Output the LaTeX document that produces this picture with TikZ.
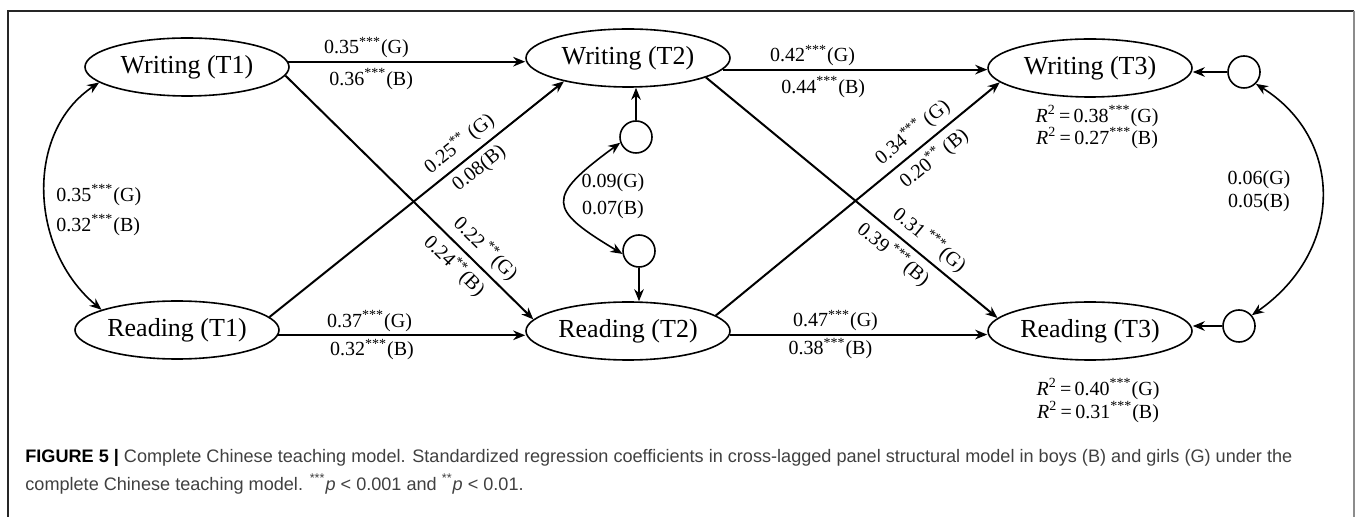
\documentclass[tikz,border=0pt]{standalone}
\usepackage{fontspec}
\setmainfont{Liberation Serif}
\setsansfont{Liberation Sans}
\usetikzlibrary{arrows.meta,shapes.geometric,calc}
\begin{document}
\begin{tikzpicture}[x=0.5pt,y=-0.5pt,
  lat/.style={ellipse,draw,line width=0.8pt,minimum width=102pt,minimum height=29pt,inner sep=0pt,font=\fontsize{13}{15}\selectfont},
  err/.style={circle,draw,line width=0.8pt,minimum size=16pt,inner sep=0pt},
  pathar/.style={line width=1pt,-{Stealth[length=6pt,width=4.8pt]}},
  covar/.style={line width=0.8pt,{Stealth[length=6pt,width=4.8pt]}-{Stealth[length=6pt,width=4.8pt]}},
  lab/.style={font=\fontsize{10}{12}\selectfont,inner sep=1.5pt},
  slab/.style={lab,sloped,inner sep=2.8pt},
  captext/.style={font=\sffamily\fontsize{9.05}{11}\selectfont,text=black!75,inner sep=0pt,anchor=base west},
]
\useasboundingbox (0,0) rectangle (1358,517);
% frame
\draw[line width=0.6pt,black!85] (8,517) -- (8,11) -- (1354,11);
\draw[line width=0.8pt,black!45] (1354,11) -- (1354,517);

% latent variables
\node[lat] (W1) at (187,67) {Writing (T1)};
\node[lat] (W2) at (628,58) {Writing (T2)};
\node[lat] (W3) at (1090,68) {Writing (T3)};
\node[lat] (R1) at (177,330) {Reading (T1)};
\node[lat] (R2) at (628,331) {Reading (T2)};
\node[lat] (R3) at (1090,331) {Reading (T3)};

% residual circles
\node[err] (eW2) at (636,137) {};
\node[err] (eR2) at (639,251) {};
\node[err] (eW3) at (1244,72) {};
\node[err] (eR3) at (1239,326) {};

% autoregressive paths
\draw[pathar] (W1.3) -- node[lab,above,pos=0.33] (l1) {0.35\textsuperscript{***}(G)}
  node[lab,below,pos=0.35,inner sep=3pt] (l2) {0.36\textsuperscript{***}(B)} (W2.west |- W1.3);
\draw[pathar] (W2.-7) -- node[lab,above,pos=0.34] (l3) {0.42\textsuperscript{***}(G)}
  node[lab,below,pos=0.38,inner sep=3pt] (l4) {0.44\textsuperscript{***}(B)} (W3.west |- W2.-7);
\draw[pathar] (R1.-3) -- node[lab,above,pos=0.37] (l5) {0.37\textsuperscript{***}(G)}
  node[lab,below,pos=0.38] (l6) {0.32\textsuperscript{***}(B)} (R2.west |- R1.-3);
\draw[pathar] (R2.-2) -- node[lab,above,pos=0.41] (l7) {0.47\textsuperscript{***}(G)}
  node[lab,below,pos=0.39] (l8) {0.38\textsuperscript{***}(B)} (R3.west |- R2.-2);

% cross-lagged paths
\draw[pathar] (W1.-5) -- node[slab,above,pos=0.76] (l9) {0.22\,\textsuperscript{**}(G)}
  node[slab,below,pos=0.73] (l10) {0.24\textsuperscript{**}(B)} (R2.173);
\draw[pathar] (R1.8) -- node[slab,above,pos=0.68] (l11) {0.25\textsuperscript{**} (G)}
  node[slab,below,pos=0.68] (l12) {0.08(B)} (W2.200);
\draw[pathar] (W2.-14) -- node[slab,above,pos=0.73] (l13) {0.31\,\textsuperscript{***}(G)}
  node[slab,below,pos=0.68] (l14) {0.39\,\textsuperscript{***}(B)} (R3.172);
\draw[pathar] (R2.10) -- node[slab,above,pos=0.73] (l15) {0.34\textsuperscript{***} (G)}
  node[slab,below,pos=0.73] (l16) {0.20\textsuperscript{**} (B)} (W3.189);

% residual paths
\draw[pathar] (eW2.north) -- (eW2.north |- W2.south);
\draw[pathar] (eR2.south) -- (eR2.south |- R2.north);
\draw[pathar] (eW3.west) -- (W3.east |- eW3.west);
\draw[pathar] (eR3.west) -- (R3.east |- eR3.west);

% covariances
\draw[covar] (W1.190) .. controls +(-75,50) and +(-72,-60) .. (R1.165);
\draw[covar] (eW2.200) .. controls +(-75,55) and +(-75,-45) .. (eR2.190);
\draw[covar] (eW3.-45) .. controls +(88,55) and +(93,-65) .. (eR3.40);

\node[lab,anchor=west] (c1a) at (53,195) {0.35\textsuperscript{***}(G)};
\node[lab,anchor=west] (c1b) at (53,225) {0.32\textsuperscript{***}(B)};
\node[lab] (c2a) at (613,183) {0.09(G)};
\node[lab] (c2b) at (613,210) {0.07(B)};
\node[lab] (c3a) at (1259,180) {0.06(G)};
\node[lab] (c3b) at (1259,203) {0.05(B)};

% R squared
\node[lab] (r1) at (1097,116) {\textit{R}\textsuperscript{2}\,=\,0.38\textsuperscript{***}(G)};
\node[lab] (r2) at (1097,138) {\textit{R}\textsuperscript{2}\,=\,0.27\textsuperscript{***}(B)};
\node[lab] (r3) at (1098,389) {\textit{R}\textsuperscript{2}\,=\,0.40\textsuperscript{***}(G)};
\node[lab] (r4) at (1098,412) {\textit{R}\textsuperscript{2}\,=\,0.31\textsuperscript{***}(B)};

% caption
\node[captext] (cap1) at (25,463) {{\bfseries\color{black}FIGURE 5 |} Complete Chinese teaching model. Standardized regression coefficients in cross-lagged panel structural model in boys (B) and girls (G) under the};
\node[captext] (cap2) at (25,490) {complete Chinese teaching model. \textsuperscript{***}\textit{p} {\textless} 0.001 and \textsuperscript{**}\textit{p} {\textless} 0.01.};
\end{tikzpicture}
\end{document}
